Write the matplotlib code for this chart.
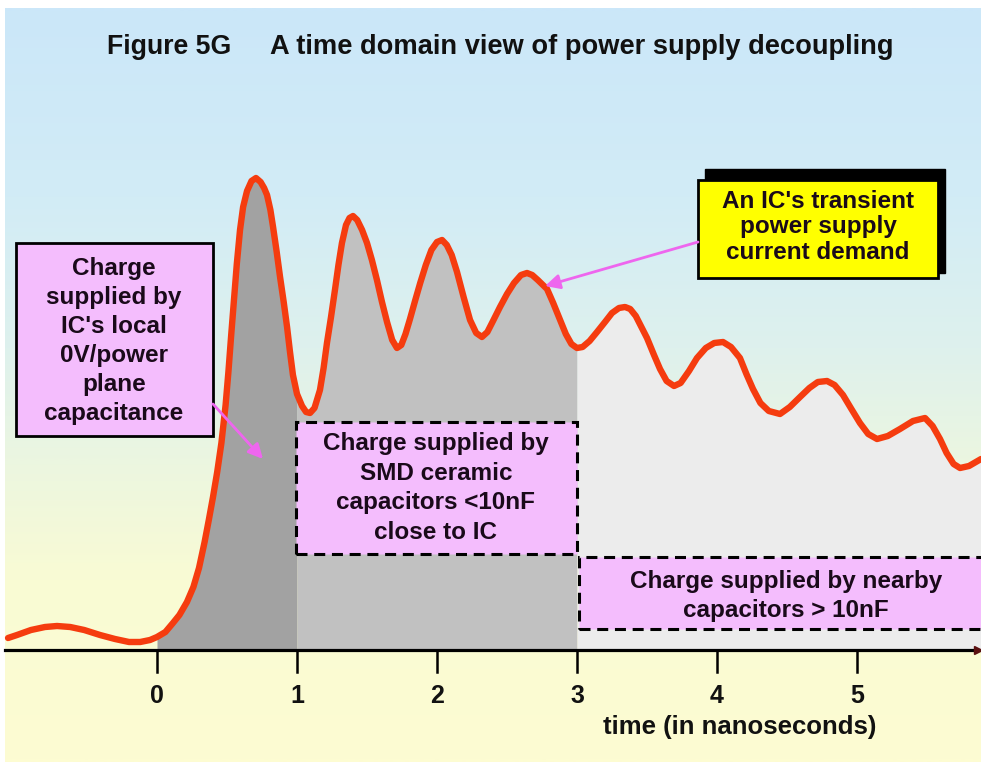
import numpy as np
import matplotlib
matplotlib.use("Agg")
import matplotlib.pyplot as plt
from matplotlib.patches import Rectangle, FancyArrowPatch
from matplotlib.colors import LinearSegmentedColormap

plt.rcParams['font.family'] = ['Liberation Sans', 'DejaVu Sans']

# ---------------- data (time in ns, current in arbitrary units) ----------------
time_ns = [-1.064, -1.0, -0.9, -0.8, -0.714, -0.62, -0.52, -0.407, -0.3, -0.2, -0.12, -0.05,
           0.0, 0.06, 0.114, 0.16, 0.214, 0.26, 0.30, 0.34, 0.37, 0.40, 0.43, 0.46, 0.49,
           0.51, 0.53, 0.55, 0.57, 0.593, 0.615, 0.643, 0.675, 0.707, 0.74, 0.765, 0.786,
           0.81, 0.829, 0.855, 0.879, 0.905, 0.929, 0.95, 0.971, 1.0, 1.036, 1.065, 1.093,
           1.125, 1.164, 1.19, 1.214, 1.243, 1.271, 1.296, 1.321, 1.35, 1.375, 1.4, 1.43,
           1.465, 1.5, 1.535, 1.571, 1.607, 1.643, 1.68, 1.714, 1.745, 1.775, 1.807, 1.845,
           1.88, 1.92, 1.96, 2.0, 2.036, 2.07, 2.105, 2.143, 2.19, 2.236, 2.28, 2.321, 2.36,
           2.4, 2.45, 2.5, 2.55, 2.6, 2.643, 2.68, 2.72, 2.786, 2.83, 2.879, 2.92, 2.96, 3.0,
           3.04, 3.09, 3.143, 3.2, 3.25, 3.3, 3.343, 3.38, 3.42, 3.46, 3.5, 3.55, 3.593, 3.64,
           3.693, 3.74, 3.8, 3.857, 3.92, 3.98, 4.043, 4.1, 4.164, 4.21, 4.257, 4.31, 4.37,
           4.45, 4.52, 4.593, 4.66, 4.72, 4.786, 4.84, 4.9, 4.96, 5.021, 5.08, 5.143, 5.22,
           5.307, 5.4, 5.486, 5.54, 5.593, 5.64, 5.69, 5.736, 5.8, 5.886]
current = [12, 15, 20, 23, 24, 23, 20, 15, 11, 8, 8, 10,
           13, 18, 27, 35, 48, 63, 82, 108, 130, 153, 178, 207, 245,
           278, 315, 350, 386, 420, 443, 459, 469, 472, 468, 462, 455,
           440, 423, 398, 373, 348, 323, 298, 275, 256, 244, 238, 237,
           242, 260, 282, 307, 333, 360, 385, 407, 425, 432, 434, 430,
           420, 407, 390, 370, 348, 328, 310, 302, 305, 316, 331, 350,
           367, 385, 400, 408, 410, 405, 395, 378, 353, 330, 317, 313, 318,
           329, 343, 356, 367, 375, 377, 375, 370, 361, 347, 330, 316, 306, 302,
           303, 309, 318, 328, 337, 342, 343, 341, 334, 323, 312, 295, 281, 269,
           264, 267, 279, 292, 302, 307, 308, 303, 292, 276, 261, 247, 239,
           236, 243, 253, 262, 268, 269, 265, 255, 241, 227, 216, 211, 214,
           221, 229, 232, 224, 211, 197, 186, 182, 184, 191]

tick_values = [0, 1, 2, 3, 4, 5]
tick_labels = ["0", "1", "2", "3", "4", "5"]
region_edges = [0, 1, 3, 5.886]
region_colors = ["#a2a2a2", "#c1c1c1", "#ececec"]

title_left = "Figure 5G"
title_right = "A time domain view of power supply decoupling"
xlabel_text = "time (in nanoseconds)"
box_plane = "Charge\nsupplied by\nIC's local\n0V/power\nplane\ncapacitance"
box_smd = "Charge supplied by\nSMD ceramic\ncapacitors <10nF\nclose to IC"
box_nearby = "Charge supplied by nearby\ncapacitors > 10nF"
box_demand = "An IC's transient\npower supply\ncurrent demand"

# ---------------- figure ----------------
W, H = 981, 762
fig = plt.figure(figsize=(W / 100, H / 100), dpi=100)
ax = fig.add_axes([0, 0, 1, 1])

X0, PXS, Y0 = 157, 140.0, 650   # pixel of x=0, px per ns, pixel of baseline


def px(xp, yp):
    return (xp - X0) / PXS, Y0 - yp


xmin, _ = px(0, 0)
xmax, _ = px(W, 0)
ax.set_xlim(xmin, xmax)
ax.set_ylim(Y0 - H, Y0)
ax.axis('off')

# background gradient
stops = [(0.0, (203/255, 231/255, 249/255)),
         (0.25, (210/255, 236/255, 246/255)),
         (0.45, (222/255, 241/255, 237/255)),
         (0.63, (238/255, 247/255, 222/255)),
         (0.76, (249/255, 251/255, 212/255)),
         (1.0, (253/255, 252/255, 210/255))]
cmap = LinearSegmentedColormap.from_list("bg", stops)
grad = np.linspace(0, 1, 400).reshape(-1, 1)
bx0, by0 = px(5, 8)
bx1, by1 = px(W, H)
ax.imshow(grad, cmap=cmap, aspect='auto', extent=[bx0, bx1, by1, by0],
          origin='upper', zorder=0, interpolation='bilinear')

t = np.array(time_ns)
c = np.array(current)

# shaded regions under the curve
for (a, b), col in zip(zip(region_edges[:-1], region_edges[1:]), region_colors):
    m = (t >= a) & (t <= b)
    ax.fill_between(t[m], 0, c[m], color=col, lw=0, zorder=1)

# the curve
ax.plot(t, c, color='#f53c0f', lw=4.6, solid_joinstyle='round',
        solid_capstyle='round', zorder=3)

# time axis
ax.plot([bx0, xmax - 0.03], [0, 0], color='black', lw=2.3, zorder=4)
ax.plot([xmax - 0.02], [0], marker='>', color='#5a1010', markersize=6, zorder=5)
for tv, tl in zip(tick_values, tick_labels):
    ax.plot([tv, tv], [-1, -22], color='black', lw=1.8, zorder=4)
    ax.text(tv, -46, tl, ha='center', va='center', fontsize=18,
            fontweight='bold', color='#111111')
lx, ly = px(740, 727)
ax.text(lx, ly, xlabel_text, ha='center', va='center', fontsize=18.5,
        fontweight='bold', color='#111111')

# title
tx, ty = px(107, 47)
ax.text(tx, ty, title_left, ha='left', va='center', fontsize=19.2,
        fontweight='bold', color='#111111')
tx, ty = px(270, 47)
ax.text(tx, ty, title_right, ha='left', va='center', fontsize=19.6,
        fontweight='bold', color='#111111')

PINK = '#f4bdfd'
TXT = '#1a0a1a'


def box(p0, p1, ls, z=6, fc=PINK, lw=2.0):
    x0, y1 = px(*p0)
    x1, y0 = px(*p1)
    r = Rectangle((x0, y0), x1 - x0, y1 - y0, facecolor=fc, edgecolor='black',
                  lw=lw, linestyle=ls, zorder=z)
    ax.add_patch(r)


# left box (solid)
box((16, 243), (213, 436), '-', lw=2.0)
x_, y_ = px(114, 341)
ax.text(x_, y_, box_plane, ha='center', va='center', fontsize=17.5,
        fontweight='bold', color=TXT, linespacing=1.34, zorder=7)

dash = (0, (3.6, 2.2))
# middle box (dashed)
box((296, 422), (577, 554), dash, lw=2.2)
x_, y_ = px(436, 488)
ax.text(x_, y_, box_smd, ha='center', va='center', fontsize=17.5,
        fontweight='bold', color=TXT, linespacing=1.36, zorder=7)

# right box (dashed)
box((579, 557), (995, 629), dash, lw=2.2)
x_, y_ = px(786, 596)
ax.text(x_, y_, box_nearby, ha='center', va='center', fontsize=17.5,
        fontweight='bold', color=TXT, linespacing=1.28, zorder=7)

# yellow callout with shadow
box((705, 169), (945, 273), '-', z=6, fc='black', lw=1)
box((698, 180), (938, 278), '-', z=7, fc='#ffff00', lw=2.0)
x_, y_ = px(818, 227)
ax.text(x_, y_, box_demand, ha='center', va='center', fontsize=17.5,
        fontweight='bold', color=TXT, linespacing=1.14, zorder=8)

# arrows
ARROW = '#ee66ee'
for p_from, p_to in [((213, 404), (263, 459)), ((698, 242), (545, 286))]:
    a = FancyArrowPatch(px(*p_from), px(*p_to), arrowstyle='-|>',
                        mutation_scale=22, color=ARROW, lw=2.0, zorder=9,
                        shrinkA=0, shrinkB=0)
    ax.add_patch(a)

fig.savefig("out.png", dpi=100, facecolor='white')
